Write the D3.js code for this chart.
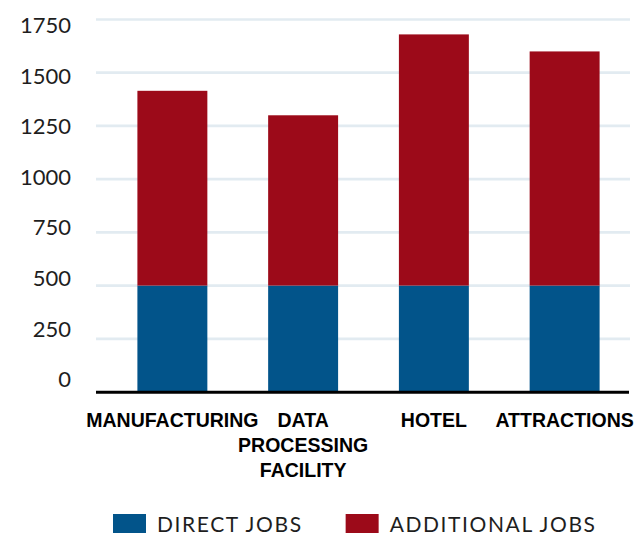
<!DOCTYPE html>
<html><head><meta charset="utf-8">
<script src="https://cdn.jsdelivr.net/npm/d3@7"></script>
<style>body{margin:0;background:#fff} svg{display:block}</style>
</head><body><svg id="c" width="636" height="535"></svg>
<script>
const categories = ["MANUFACTURING","DATA PROCESSING FACILITY","HOTEL","ATTRACTIONS"];
const categoryLines = [["MANUFACTURING"],["DATA","PROCESSING","FACILITY"],["HOTEL"],["ATTRACTIONS"]];
const directJobs = [500,500,500,500];
const additionalJobs = [915,800,1180,1100];
const yTicks = [0,250,500,750,1000,1250,1500,1750];
const seriesNames = ["DIRECT JOBS","ADDITIONAL JOBS"];
const seriesColors = ["#02548A","#9C0A19"];

const svg = d3.select("#c");
const rows = categories.map((c,i)=>({cat:c, direct:directJobs[i], additional:additionalJobs[i]}));
const keys = ["direct","additional"];
const stack = d3.stack().keys(keys)(rows);

const x = d3.scaleBand().domain(categories).range([107,630]).paddingInner(0.465).paddingOuter(0.2325);
const y = d3.scaleLinear().domain([0,1750]).range([392,19.5]);
const yLab = d3.scaleLinear().domain([0,1750]).range([379,24.5]);
const color = d3.scaleOrdinal().domain(keys).range(seriesColors);

// gridlines
svg.append("g").selectAll("line").data(yTicks.filter(d=>d>0)).join("line")
  .attr("x1",96).attr("x2",630)
  .attr("y1",d=>y(d)).attr("y2",d=>y(d))
  .attr("stroke","#e2ebf1").attr("stroke-width",2.7);

// bars
svg.append("g").selectAll("g").data(stack).join("g")
  .attr("fill",d=>color(d.key))
  .selectAll("rect").data(d=>d).join("rect")
  .attr("x",d=>x(d.data.cat))
  .attr("width",x.bandwidth())
  .attr("y",d=>y(d[1]))
  .attr("height",d=>y(d[0])-y(d[1]));

// baseline
svg.append("line").attr("x1",96).attr("x2",629).attr("y1",392.3).attr("y2",392.3)
  .attr("stroke","#000").attr("stroke-width",3);

// y axis labels
const ya = svg.append("g").attr("transform","translate(71,0)")
  .call(d3.axisLeft(yLab).tickValues(yTicks).tickSize(0).tickPadding(0).tickFormat(d3.format("d")));
ya.select(".domain").remove();
ya.selectAll("text").attr("font-family","Lato, 'Open Sans', sans-serif").attr("font-size",22)
  .attr("fill","#1e1e1e").attr("dy","0.36em");

// x axis labels
const xa = svg.append("g").attr("transform","translate(0,392)")
  .call(d3.axisBottom(x).tickSize(0));
xa.select(".domain").remove();
xa.selectAll("text").each(function(d,i){
  const t = d3.select(this).text(null).attr("y",35).attr("dy",null)
    .attr("font-family","'Liberation Sans', Arial, sans-serif").attr("font-weight","bold")
    .attr("font-size",19.5).attr("fill","#000");
  categoryLines[i].forEach((ln,j)=>{
    t.append("tspan").attr("x",0).attr("dy", j===0?0:25).text(ln);
  });
});

// legend
const lg = svg.append("g");
let lx = 113;
seriesNames.forEach((name,i)=>{
  const g = lg.append("g").attr("transform",`translate(${lx},0)`);
  g.append("rect").attr("x",0).attr("y",514).attr("width",33).attr("height",19).attr("fill",seriesColors[i]);
  const t = g.append("text").attr("x",44).attr("y",531.7).text(name)
    .attr("font-family","Lato, 'Open Sans', sans-serif").attr("font-size",21)
    .attr("letter-spacing",1.6).attr("fill","#1e1e1e");
  lx += 44 + t.node().getComputedTextLength() + 43;
});
</script></body></html>
